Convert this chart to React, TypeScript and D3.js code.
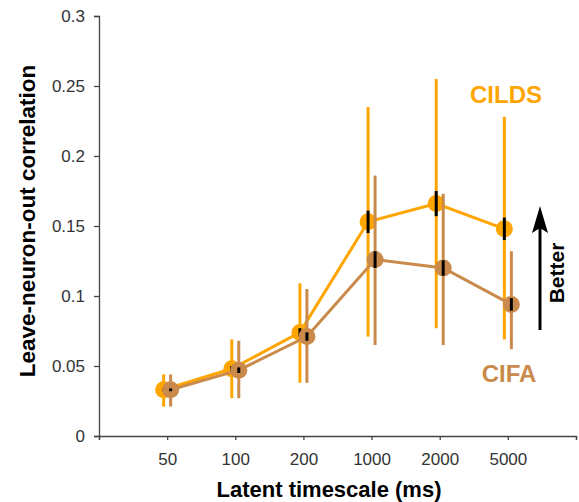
import React, { useEffect, useRef } from "react";
import * as d3 from "d3";

// latent timescales (ms), shown as evenly spaced categories
const timescales = ["50", "100", "200", "1000", "2000", "5000"];

// CILDS
const cildsMean = [0.033, 0.048, 0.074, 0.153, 0.166, 0.148];
const cildsLow = [0.021, 0.027, 0.038, 0.071, 0.077, 0.069];
const cildsHigh = [0.044, 0.069, 0.109, 0.235, 0.255, 0.228];
const cildsSem = [0.001, 0.002, 0.003, 0.008, 0.009, 0.008];

// CIFA
const cifaMean = [0.033, 0.047, 0.071, 0.126, 0.12, 0.094];
const cifaLow = [0.021, 0.027, 0.038, 0.065, 0.065, 0.062];
const cifaHigh = [0.044, 0.068, 0.105, 0.186, 0.173, 0.132];
const cifaSem = [0.001, 0.002, 0.003, 0.006, 0.0055, 0.0045];

const yTicks = [0, 0.05, 0.1, 0.15, 0.2, 0.25, 0.3];

const width = 579;
const height = 502;
const font = "'Liberation Sans', Arial, sans-serif";

export default function App() {
  const ref = useRef<SVGSVGElement>(null);

  useEffect(() => {
    const svg = d3.select(ref.current);
    svg.selectAll("*").remove();

    const margin = { top: 16, right: 3, bottom: 66, left: 99 };
    const x = d3.scaleLinear().domain([0, 7]).range([margin.left, width - margin.right]);
    const y = d3.scaleLinear().domain([0, 0.3]).range([height - margin.bottom, margin.top]);

    // axes
    const yAxis = svg.append("g")
      .attr("transform", `translate(${margin.left},0)`)
      .call(d3.axisLeft(y).tickValues(yTicks).tickSize(5).tickPadding(9)
        .tickFormat(d => d3.format("")(+d)));
    const xAxis = svg.append("g")
      .attr("transform", `translate(0,${height - margin.bottom})`)
      .call(d3.axisBottom(x).tickValues(d3.range(0, 8)).tickSize(4).tickPadding(13)
        .tickFormat((d, i) => (i >= 1 && i <= 6 ? timescales[i - 1] : "")));
    [xAxis, yAxis].forEach(a => {
      a.select(".domain").attr("stroke", "#444").attr("stroke-width", 1.3);
      a.selectAll(".tick line").attr("stroke", "#444").attr("stroke-width", 1.3);
      a.selectAll("text").attr("fill", "#333").attr("font-size", 17).attr("font-family", font);
    });

    const series = [
      { mean: cildsMean, low: cildsLow, high: cildsHigh, sem: cildsSem, color: "#FFA500", dx: -3.5 },
      { mean: cifaMean, low: cifaLow, high: cifaHigh, sem: cifaSem, color: "#C98A4B", dx: 3.5 },
    ];

    series.forEach(s => {
      const idx = d3.range(s.mean.length);
      const px = (i: number) => x(i + 1) + s.dx;
      const g = svg.append("g");

      g.append("path")
        .datum(idx)
        .attr("fill", "none")
        .attr("stroke", s.color)
        .attr("stroke-width", 3)
        .attr("d", d3.line<number>().x(px).y(i => y(s.mean[i])));

      g.selectAll("circle")
        .data(idx)
        .join("circle")
        .attr("cx", px)
        .attr("cy", i => y(s.mean[i]))
        .attr("r", 8.5)
        .attr("fill", s.color);

      g.selectAll("line.range")
        .data(idx)
        .join("line")
        .attr("class", "range")
        .attr("x1", px).attr("x2", px)
        .attr("y1", i => y(s.low[i]))
        .attr("y2", i => y(s.high[i]))
        .attr("stroke", s.color)
        .attr("stroke-width", 3);

      g.selectAll("line.sem")
        .data(idx)
        .join("line")
        .attr("class", "sem")
        .attr("x1", px).attr("x2", px)
        .attr("y1", i => y(s.mean[i] - s.sem[i]))
        .attr("y2", i => y(s.mean[i] + s.sem[i]))
        .attr("stroke", "#000")
        .attr("stroke-width", 3);
    });

    // labels
    svg.append("text")
      .attr("x", 506).attr("y", 103)
      .attr("text-anchor", "middle")
      .attr("font-family", font).attr("font-weight", "bold").attr("font-size", 24)
      .attr("fill", "#FFA500")
      .text("CILDS");
    svg.append("text")
      .attr("x", 509).attr("y", 382)
      .attr("text-anchor", "middle")
      .attr("font-family", font).attr("font-weight", "bold").attr("font-size", 24)
      .attr("fill", "#C98A4B")
      .text("CIFA");

    // better arrow
    svg.append("line")
      .attr("x1", 540).attr("x2", 540)
      .attr("y1", 330).attr("y2", 225)
      .attr("stroke", "#000").attr("stroke-width", 3);
    svg.append("path")
      .attr("d", "M540,206 L548,233 L540,228 L532,233 Z")
      .attr("fill", "#000");
    svg.append("text")
      .attr("transform", "translate(564,273) rotate(-90)")
      .attr("text-anchor", "middle")
      .attr("font-family", font).attr("font-weight", "bold").attr("font-size", 21)
      .attr("fill", "#000")
      .text("Better");

    // axis titles
    svg.append("text")
      .attr("x", 329).attr("y", 497)
      .attr("text-anchor", "middle")
      .attr("font-family", font).attr("font-weight", "bold").attr("font-size", 22)
      .attr("fill", "#000")
      .text("Latent timescale (ms)");
    svg.append("text")
      .attr("transform", "translate(35,221) rotate(-90)")
      .attr("text-anchor", "middle")
      .attr("font-family", font).attr("font-weight", "bold").attr("font-size", 22.5)
      .attr("fill", "#000")
      .text("Leave-neuron-out correlation");
  }, []);

  return (
    <svg
      ref={ref}
      width={width}
      height={height}
      style={{ position: "absolute", left: 0, top: 0, background: "#fff" }}
    />
  );
}
